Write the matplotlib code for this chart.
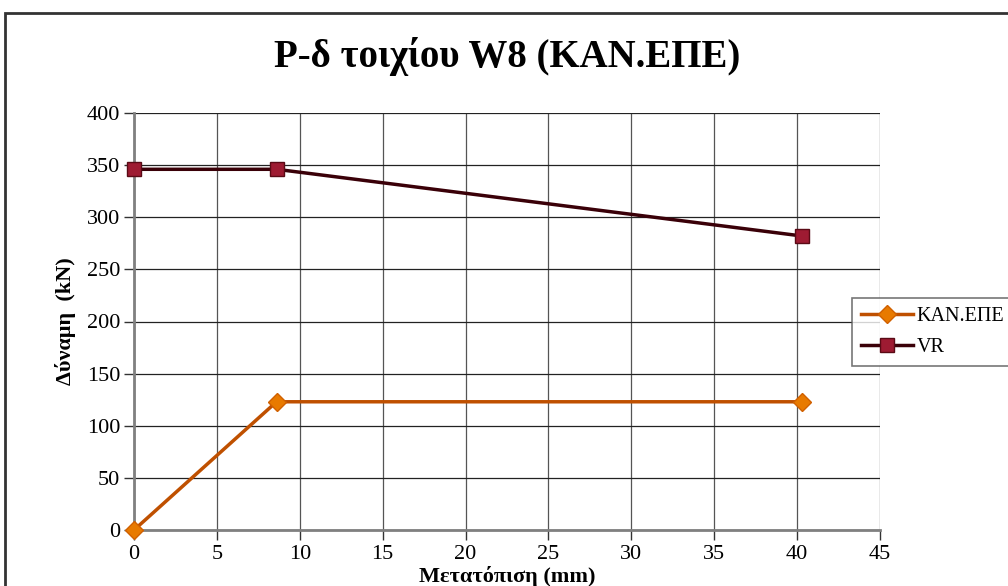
import matplotlib
matplotlib.use("Agg")
import matplotlib.pyplot as plt
from matplotlib.patches import Rectangle

plt.rcParams['font.family'] = ['Liberation Serif', 'DejaVu Serif']

# Data
kan_x = [0, 8.6, 40.3]
kan_y = [0, 123, 123]
vr_x = [0, 8.6, 40.3]
vr_y = [346, 346, 282]

title = "P-δ τοιχίου W8 (ΚΑΝ.ΕΠΕ)"
xlabel = "Μετατόπιση (mm)"
ylabel = "Δύναμη  (kN)"

fig = plt.figure(figsize=(10.08, 5.86), dpi=100)
ax = fig.add_axes([134 / 1008, 1 - 530 / 586, (880 - 134) / 1008, (530 - 113) / 586])

# outer chart border
fig.patches.append(Rectangle((5 / 1008, -0.1), 1.2, 1 - 13 / 586 + 0.1,
                             transform=fig.transFigure, fill=False,
                             edgecolor='#333333', linewidth=2))

ax.plot(kan_x, kan_y, color='#BF5000', linewidth=2.5, marker='D', markersize=9,
        markerfacecolor='#E87A00', markeredgecolor='#D06000', label='ΚΑΝ.ΕΠΕ',
        clip_on=False, zorder=5)
ax.plot(vr_x, vr_y, color='#3A0008', linewidth=2.5, marker='s', markersize=10,
        markerfacecolor='#9E1B32', markeredgecolor='#5A0A15', label='VR',
        clip_on=False, zorder=5)

ax.set_xlim(0, 45)
ax.set_ylim(0, 400)
ax.set_xticks(range(0, 46, 5))
ax.set_yticks(range(0, 401, 50))
ax.grid(True, axis='y', color='#222222', linewidth=0.9)
ax.grid(True, axis='x', color='#555555', linewidth=0.9)
ax.set_axisbelow(True)
for s in ['top', 'right']:
    ax.spines[s].set_visible(False)
for s in ['left', 'bottom']:
    ax.spines[s].set_color('#808080')
    ax.spines[s].set_linewidth(2)
ax.tick_params(direction='out', length=7, width=1, color='#333333', labelsize=16)
ax.tick_params(axis='y', pad=3)
ax.tick_params(axis='x', pad=4)

ax.set_title(title, fontsize=28, fontweight='bold', pad=33)
ax.set_xlabel(xlabel, fontsize=16, fontweight='bold', labelpad=1)
ax.set_ylabel(ylabel, fontsize=16, fontweight='bold', labelpad=8)

# legend sits partly outside the plot, at the right edge of the figure
leg = fig.legend(loc='upper left', bbox_to_anchor=(852 / 1008, 1 - 298 / 586),
                 fontsize=14.5, frameon=True, fancybox=False, borderaxespad=0,
                 handlelength=2.6, labelspacing=0.6, handletextpad=0.15,
                 borderpad=0.45)
leg.get_frame().set_edgecolor('#555555')
leg.get_frame().set_linewidth(1.2)

fig.savefig("out.png", dpi=100)
